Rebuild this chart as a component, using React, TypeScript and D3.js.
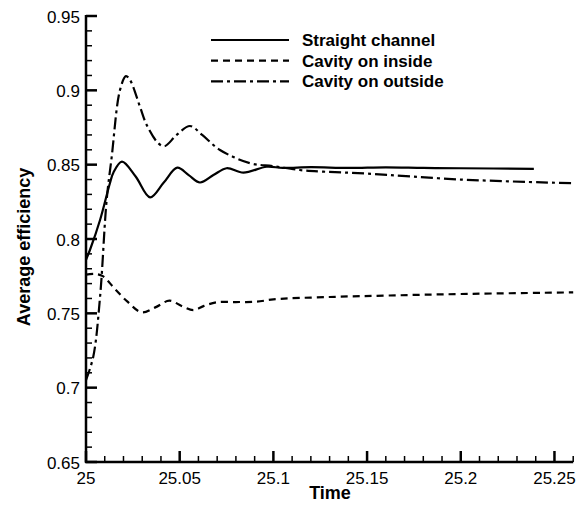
import React from "react";
import * as d3 from "d3";

const straightT = [25.0, 25.0021, 25.0075, 25.0128, 25.0146, 25.0192, 25.0265, 25.0342, 25.0415, 25.0487, 25.0548, 25.0608, 25.068, 25.075, 25.084, 25.0964, 25.105, 25.12, 25.14, 25.16, 25.18, 25.2, 25.239];
const straightV = [0.786, 0.7926, 0.8128, 0.8377, 0.8446, 0.852, 0.842, 0.828, 0.838, 0.848, 0.843, 0.838, 0.843, 0.8476, 0.8446, 0.8486, 0.8478, 0.8483, 0.8478, 0.8482, 0.8478, 0.8476, 0.8472];

const insideT = [25.0, 25.005, 25.009, 25.015, 25.022, 25.0297, 25.037, 25.0445, 25.051, 25.0573, 25.063, 25.0697, 25.08, 25.091, 25.1, 25.13, 25.162, 25.2, 25.26];
const insideV = [0.776, 0.7765, 0.775, 0.767, 0.758, 0.7507, 0.754, 0.7585, 0.755, 0.7522, 0.755, 0.7574, 0.7576, 0.7578, 0.7594, 0.761, 0.762, 0.763, 0.7641];

const outsideT = [25.0, 25.0039, 25.0075, 25.011, 25.0137, 25.0181, 25.0213, 25.0235, 25.0288, 25.0324, 25.0386, 25.042, 25.0484, 25.0555, 25.062, 25.0715, 25.0875, 25.1, 25.114, 25.1266, 25.15, 25.2, 25.26];
const outsideV = [0.705, 0.721, 0.761, 0.826, 0.855, 0.9, 0.9096, 0.907, 0.889, 0.8767, 0.8644, 0.8625, 0.87, 0.876, 0.87, 0.8599, 0.851, 0.849, 0.8464, 0.8453, 0.844, 0.84, 0.8375];

const seriesNames = ["Straight channel", "Cavity on inside", "Cavity on outside"];
const xMajor = [25, 25.05, 25.1, 25.15, 25.2, 25.25];
const xMajorLabels = ["25", "25.05", "25.1", "25.15", "25.2", "25.25"];
const yMajor = [0.65, 0.7, 0.75, 0.8, 0.85, 0.9, 0.95];
const yMajorLabels = ["0.65", "0.7", "0.75", "0.8", "0.85", "0.9", "0.95"];

export default function App() {
  const W = 586, H = 508;
  const x = d3.scaleLinear().domain([25, 25.26]).range([86, 573.2]);
  const y = d3.scaleLinear().domain([0.65, 0.95]).range([462, 16]);

  const mk = (ts: number[], vs: number[]) => ts.map((t, i) => [t, vs[i]] as [number, number]);
  const line = d3.line<[number, number]>().x(d => x(d[0])).y(d => y(d[1])).curve(d3.curveCatmullRom.alpha(0.5));

  const series = [
    { data: mk(straightT, straightV), dash: "none" },
    { data: mk(insideT, insideV), dash: "7,5" },
    { data: mk(outsideT, outsideV), dash: "12,4,3,4" },
  ];

  const xMinor: number[] = [];
  for (let i = 0; i <= 26; i++) { const v = 25 + i * 0.01; if (i % 5 !== 0) xMinor.push(v); }
  const yMinor: number[] = [];
  for (let i = 0; i <= 30; i++) { const v = 0.65 + i * 0.01; if (i % 5 !== 0) yMinor.push(v); }

  const font = "Arial, 'Liberation Sans', sans-serif";
  const legendY = [40, 60.7, 81.3];

  return (
    <svg width={W} height={H} style={{ position: "absolute", left: 0, top: 0, background: "#fff" }} fontFamily={font}>
      <rect width={W} height={H} fill="#fff" />
      {series.map((s, i) => (
        <path key={i} d={line(s.data) || ""} fill="none" stroke="#000" strokeWidth={2.2} strokeDasharray={s.dash} />
      ))}
      {/* axes */}
      <line x1={86} x2={86} y1={15} y2={463} stroke="#000" strokeWidth={2.5} />
      <line x1={85} x2={x(25.26)} y1={462} y2={462} stroke="#000" strokeWidth={2.5} />
      {yMajor.map((v, i) => (
        <g key={"ym" + i}>
          <line x1={86} x2={97} y1={y(v)} y2={y(v)} stroke="#000" strokeWidth={2.5} />
          <text x={80} y={y(v) + 6.5} fontSize={17} textAnchor="end">{yMajorLabels[i]}</text>
        </g>
      ))}
      {yMinor.map((v, i) => (
        <line key={"yn" + i} x1={86} x2={92} y1={y(v)} y2={y(v)} stroke="#000" strokeWidth={1.5} />
      ))}
      {xMajor.map((v, i) => (
        <g key={"xm" + i}>
          <line x1={x(v)} x2={x(v)} y1={462} y2={451} stroke="#000" strokeWidth={2.5} />
          <text x={x(v)} y={484} fontSize={17} textAnchor="middle">{xMajorLabels[i]}</text>
        </g>
      ))}
      {xMinor.map((v, i) => (
        <line key={"xn" + i} x1={x(v)} x2={x(v)} y1={462} y2={456} stroke="#000" strokeWidth={1.5} />
      ))}
      <text x={330} y={499} fontSize={18} fontWeight="bold" textAnchor="middle">Time</text>
      <text transform="translate(30,247) rotate(-90)" fontSize={18} fontWeight="bold" textAnchor="middle">Average efficiency</text>
      {/* legend */}
      {series.map((s, i) => (
        <g key={"lg" + i}>
          <line x1={211} x2={289} y1={legendY[i]} y2={legendY[i]} stroke="#000" strokeWidth={2.2} strokeDasharray={s.dash} />
          <text x={302} y={legendY[i] + 6} fontSize={17} fontWeight="bold">{seriesNames[i]}</text>
        </g>
      ))}
    </svg>
  );
}
